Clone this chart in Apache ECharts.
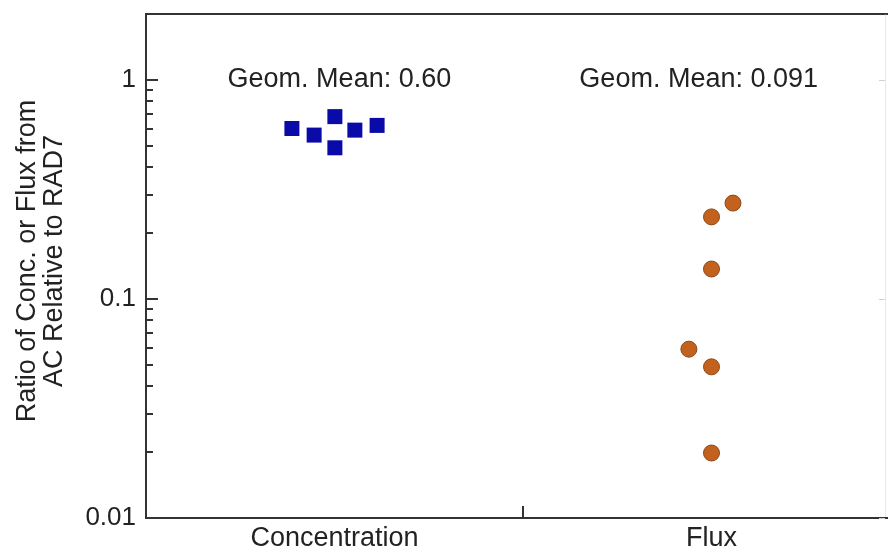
<!DOCTYPE html>
<html>
<head>
<meta charset="utf-8">
<script src="https://cdn.jsdelivr.net/npm/echarts@6/dist/echarts.min.js"></script>
<style>
  html, body { margin: 0; padding: 0; background: #fff; }
  #chart { width: 888px; height: 548px; }
</style>
</head>
<body>
<div id="chart"></div>
<script>
// categories along x (placed at 0.5 and 1.5 of a 0..2 value axis)
const categories = ['Concentration', 'Flux']
const categoryPos = [0.5, 1.5]

// concentration ratios (squares), x = jitter position inside the category
const concX = [0.387, 0.446, 0.501, 0.501, 0.554, 0.613]
const concY = [0.60, 0.56, 0.68, 0.49, 0.59, 0.62]

// flux ratios (circles)
const fluxX = [1.557, 1.5, 1.5, 1.44, 1.5, 1.5]
const fluxY = [0.274, 0.237, 0.137, 0.059, 0.049, 0.0198]

// annotation texts
const meanLabels = ['Geom. Mean: 0.60', 'Geom. Mean: 0.091']
const meanX = [0.513, 1.466]
const meanY = [1.0, 1.0]

// y ticks
const yMajor = [0.01, 0.1, 1]
const yMajorLabels = ['0.01', '0.1', '1']
const yMinor = [0.02, 0.03, 0.04, 0.05, 0.06, 0.07, 0.08, 0.09,
  0.2, 0.3, 0.4, 0.5, 0.6, 0.7, 0.8, 0.9]

const FONT = '"Liberation Sans", Arial, sans-serif'
const TXT = '#222'
const AX = '#333'

const chart = echarts.init(document.getElementById('chart'), null, { renderer: 'canvas' })

const zip = (xs, ys) => xs.map((x, i) => [x, ys[i]])

const logAxis = (extra) => Object.assign({
  type: 'log',
  logBase: 10,
  min: 0.01,
  max: 2,
  splitLine: { show: false },
  axisLabel: { show: false },
  axisTick: { show: false },
  axisLine: { show: false }
}, extra)

const option = {
  backgroundColor: '#fff',
  animation: false,
  grid: {
    left: 146, right: -12, top: 14, bottom: 30,
    show: true, borderColor: AX, borderWidth: 2,
    outerBoundsMode: 'none'
  },
  xAxis: {
    type: 'value',
    min: 0,
    max: 2,
    splitLine: { show: false },
    axisLine: { show: true, onZero: false, lineStyle: { color: AX, width: 2 } },
    axisTick: { show: true, inside: true, length: 12, customValues: [1], lineStyle: { color: AX, width: 2 } },
    axisLabel: {
      customValues: categoryPos,
      margin: 7,
      color: TXT, fontFamily: FONT, fontSize: 27,
      formatter: v => categories[categoryPos.indexOf(v)] || ''
    }
  },
  yAxis: [
    logAxis({
      name: 'Ratio of Conc. or Flux from\nAC Relative to RAD7',
      nameLocation: 'middle',
      nameRotate: 90,
      nameGap: 78,
      nameTextStyle: { color: TXT, fontFamily: FONT, fontSize: 27, lineHeight: 27, padding: [0, 0, 0, 10] },
      axisLine: { show: true, onZero: false, lineStyle: { color: AX, width: 2 } },
      axisTick: { show: true, inside: true, length: 12, customValues: yMajor, lineStyle: { color: AX, width: 2 } },
      axisLabel: {
        show: true,
        customValues: yMajor,
        margin: 10,
        color: TXT, fontFamily: FONT, fontSize: 26,
        formatter: v => {
          const i = yMajor.findIndex(m => Math.abs(m - v) / m < 1e-6)
          return i >= 0 ? yMajorLabels[i] : ''
        }
      }
    }),
    logAxis({
      position: 'left',
      axisTick: { show: true, inside: true, length: 7, customValues: yMinor, lineStyle: { color: AX, width: 2 } }
    }),
    logAxis({
      position: 'right',
      offset: -15,
      axisLine: { show: true, onZero: false, lineStyle: { color: '#e2e2e2', width: 1, type: 'dotted' } },
      axisTick: { show: true, inside: true, length: 6, customValues: yMajor, lineStyle: { color: '#d0d0d0', width: 1 } }
    })
  ],
  series: [
    {
      name: 'Concentration',
      type: 'scatter',
      symbol: 'rect',
      symbolSize: 15,
      itemStyle: { color: '#0a0aa8', opacity: 1 },
      data: zip(concX, concY)
    },
    {
      name: 'Flux',
      type: 'scatter',
      symbol: 'circle',
      symbolSize: 16,
      itemStyle: { color: '#c2621e', borderColor: '#8c4a1c', borderWidth: 1, opacity: 1 },
      data: zip(fluxX, fluxY)
    },
    {
      name: 'means',
      type: 'scatter',
      symbolSize: 0,
      silent: true,
      itemStyle: { color: 'transparent', opacity: 1 },
      label: {
        show: true,
        position: 'inside',
        color: TXT, fontFamily: FONT, fontSize: 27,
        textBorderWidth: 0,
        formatter: p => meanLabels[p.dataIndex]
      },
      data: zip(meanX, meanY)
    }
  ]
}

chart.setOption(option)
</script>
</body>
</html>
